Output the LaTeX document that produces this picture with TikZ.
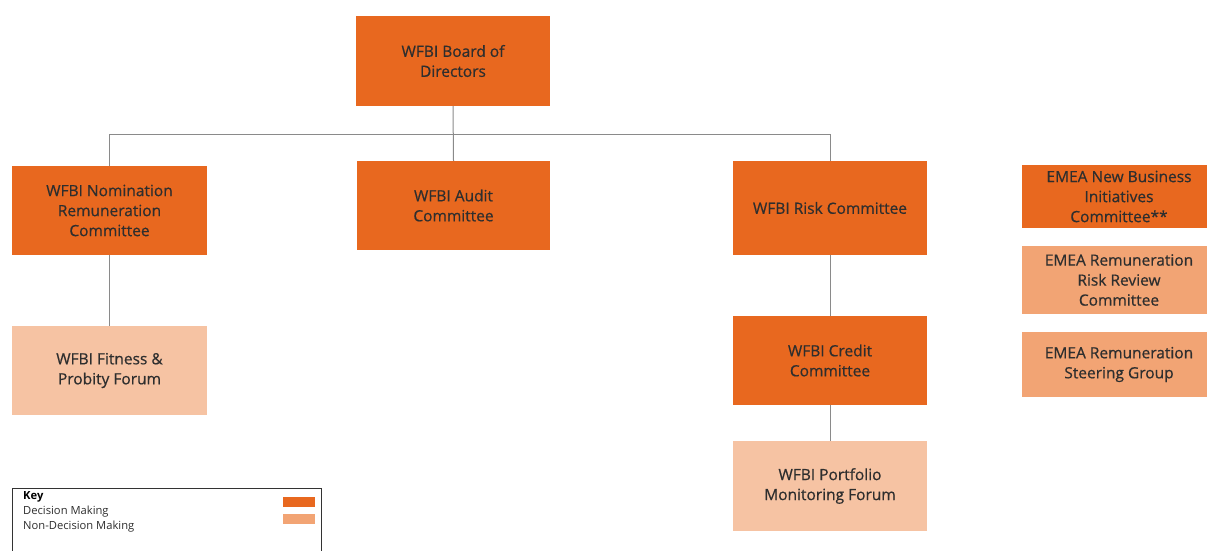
\documentclass[tikz,border=0pt]{standalone}
\usepackage{fontspec}
\setmainfont{Open Sans}
\newfontfamily\boxfont[FakeBold=0.6]{Open Sans}
\definecolor{dm}{HTML}{E8681F}
\definecolor{ndm}{HTML}{F6C3A3}
\definecolor{ndmb}{HTML}{F2A474}
\definecolor{txt}{HTML}{2E2E2E}
\definecolor{ln}{HTML}{8A8A8A}
\begin{document}
\begin{tikzpicture}[x=1pt,y=-1pt,
  box/.style={draw=none,text=txt,align=center,font=\boxfont\fontsize{15.5}{20}\selectfont,inner sep=0pt},
  keytxt/.style={anchor=base west,inner sep=0pt,font=\fontsize{11.2}{13}\selectfont,text=txt},
  conn/.style={draw=ln,line width=1pt}]
\useasboundingbox (0,0) rectangle (1207,551);
% boxes
\fill[dm] (356,16) rectangle (550,106);
\node[box,minimum width=194pt,minimum height=90pt] (board) at (453,61) {WFBI Board of\\Directors};
\fill[dm] (12,166) rectangle (207,255);
\node[box,minimum width=195pt,minimum height=89pt] (nom) at (109.5,210.5) {WFBI Nomination\\Remuneration\\Committee};
\fill[dm] (357,161) rectangle (550,250);
\node[box,minimum width=193pt,minimum height=89pt] (audit) at (453.5,205.5) {WFBI Audit\\Committee};
\fill[dm] (733,161) rectangle (927,255);
\node[box,minimum width=194pt,minimum height=94pt] (risk) at (830,208) {WFBI Risk Committee};
\fill[ndm] (12,326) rectangle (207,415);
\node[box,minimum width=195pt,minimum height=89pt] (fit) at (109.5,370.5) {WFBI Fitness \symbol{38}\\Probity Forum};
\fill[dm] (733,316) rectangle (927,405);
\node[box,minimum width=194pt,minimum height=89pt] (credit) at (830,360.5) {WFBI Credit\\Committee};
\fill[ndm] (733,441) rectangle (927,531);
\node[box,minimum width=194pt,minimum height=90pt] (port) at (830,486) {WFBI Portfolio\\Monitoring Forum};
\fill[dm] (1022,165) rectangle (1207,228);
\node[box,minimum width=185pt,minimum height=63pt] (new) at (1119,196.5) {EMEA New Business\\Initiatives\\Committee**};
\fill[ndmb] (1022,246) rectangle (1207,314);
\node[box,minimum width=185pt,minimum height=68pt] (rrr) at (1119,280) {EMEA Remuneration\\Risk Review\\Committee};
\fill[ndmb] (1022,332) rectangle (1207,397);
\node[box,minimum width=185pt,minimum height=65pt] (steer) at (1119,364.5) {EMEA Remuneration\\Steering Group};
% connectors
\coordinate (busl) at (109.5,134);
\coordinate (busr) at (830,134);
\draw[conn] (board.south) -- (audit.north);
\draw[conn] (nom.north) -- (busl) -- (busr) -- (risk.north);
\draw[conn] (nom.south) -- (fit.north);
\draw[conn] (risk.south) -- (credit.north);
\draw[conn] (credit.south) -- (port.north);
% key
\draw[line width=1pt,draw=black!80] (12,560) -- (12,488.5) -- (321,488.5) -- (321,560);
\node[keytxt,font=\fontsize{11.2}{13}\selectfont\bfseries,text=black] (keyt) at (23,499.5) {Key};
\node[keytxt] (k1) at (23,514) {Decision Making};
\node[keytxt] (k2) at (23,529) {Non-Decision Making};
\fill[dm] (283,497) rectangle (315,507);
\fill[ndmb] (283,514) rectangle (315,524);
\end{tikzpicture}
\end{document}
